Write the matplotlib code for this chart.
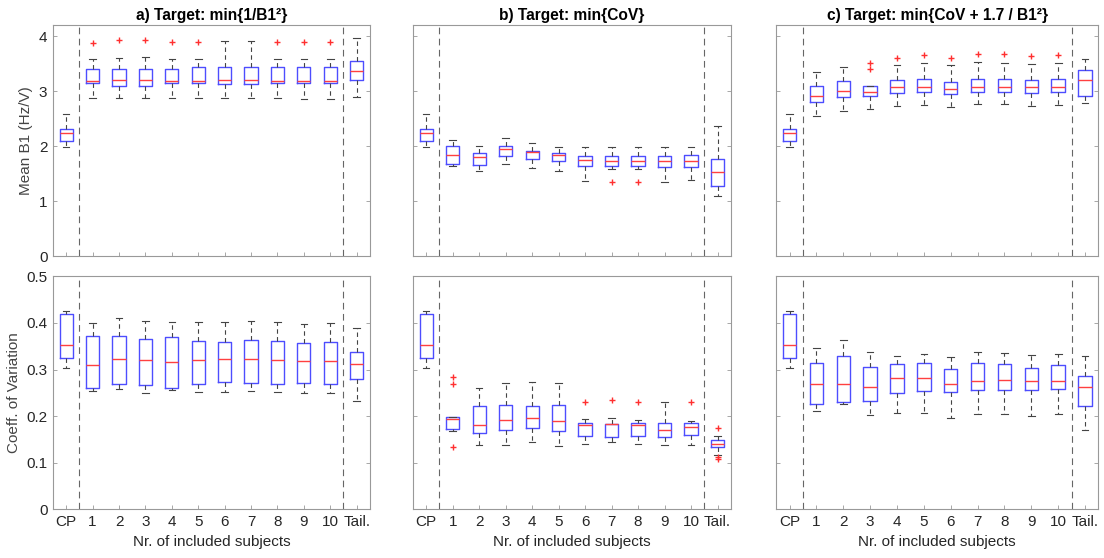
import matplotlib
matplotlib.use('Agg')
import matplotlib.pyplot as plt

plt.rcParams['font.family'] = ['Liberation Sans', 'DejaVu Sans']

labels = ['CP', '1', '2', '3', '4', '5', '6', '7', '8', '9', '10', 'Tail.']
titles = ['a) Target: min{1/B1²}', 'b) Target: min{CoV}', 'c) Target: min{CoV + 1.7 / B1²}']

# CP reference (same in every panel): lo, q1, med, q3, hi
cp_mean = [1.99, 2.10, 2.23, 2.32, 2.59]
cp_cov = [0.303, 0.324, 0.352, 0.419, 0.425]

# ---- Mean B1, columns 1..10 and Tail.
a_mean_lo = [2.88, 2.88, 2.88, 2.87, 2.87, 2.87, 2.87, 2.87, 2.86, 2.86, 2.90]
a_mean_q1 = [3.14, 3.10, 3.10, 3.15, 3.14, 3.13, 3.13, 3.14, 3.14, 3.14, 3.21]
a_mean_med = [3.18, 3.20, 3.20, 3.19, 3.19, 3.20, 3.20, 3.19, 3.19, 3.19, 3.37]
a_mean_q3 = [3.41, 3.40, 3.41, 3.41, 3.44, 3.44, 3.44, 3.44, 3.44, 3.44, 3.55]
a_mean_hi = [3.58, 3.61, 3.62, 3.59, 3.59, 3.92, 3.92, 3.59, 3.59, 3.59, 3.96]
a_mean_out = [[3.87], [3.93], [3.93], [3.89], [3.90], [], [], [3.90], [3.90], [3.90], []]

b_mean_lo = [1.64, 1.54, 1.68, 1.61, 1.55, 1.36, 1.58, 1.58, 1.35, 1.38, 1.09]
b_mean_q1 = [1.67, 1.65, 1.82, 1.77, 1.73, 1.64, 1.64, 1.64, 1.62, 1.62, 1.28]
b_mean_med = [1.84, 1.81, 1.95, 1.89, 1.84, 1.74, 1.73, 1.73, 1.73, 1.73, 1.53]
b_mean_q3 = [2.00, 1.87, 2.01, 1.92, 1.87, 1.82, 1.82, 1.82, 1.82, 1.83, 1.76]
b_mean_hi = [2.12, 2.01, 2.15, 2.05, 1.99, 1.99, 1.99, 1.99, 1.99, 1.98, 2.37]
b_mean_out = [[], [], [], [], [], [], [1.35], [1.35], [], [], []]

c_mean_lo = [2.55, 2.64, 2.67, 2.73, 2.75, 2.72, 2.76, 2.76, 2.73, 2.75, 2.79]
c_mean_q1 = [2.81, 2.90, 2.91, 2.97, 2.99, 2.94, 2.99, 2.98, 2.96, 2.98, 2.91]
c_mean_med = [2.92, 3.00, 2.99, 3.07, 3.08, 3.04, 3.07, 3.08, 3.07, 3.08, 3.20]
c_mean_q3 = [3.09, 3.19, 3.09, 3.20, 3.22, 3.16, 3.22, 3.22, 3.21, 3.22, 3.39]
c_mean_hi = [3.35, 3.44, 3.09, 3.48, 3.52, 3.47, 3.53, 3.52, 3.50, 3.52, 3.59]
c_mean_out = [[], [], [3.41, 3.51], [3.61], [3.65], [3.61], [3.68], [3.67], [3.64], [3.65], []]

# ---- Coefficient of variation
a_cov_lo = [.254, .258, .249, .256, .252, .251, .254, .251, .249, .249, .232]
a_cov_q1 = [.260, .269, .267, .261, .269, .274, .272, .269, .271, .269, .280]
a_cov_med = [.310, .323, .320, .317, .320, .323, .323, .320, .319, .319, .312]
a_cov_q3 = [.372, .372, .365, .369, .362, .360, .363, .361, .357, .360, .338]
a_cov_hi = [.400, .410, .403, .402, .401, .402, .405, .401, .398, .400, .388]
a_cov_out = [[] for _ in range(11)]

b_cov_lo = [.168, .138, .138, .144, .136, .141, .145, .141, .138, .138, .117]
b_cov_q1 = [.173, .164, .171, .174, .169, .157, .156, .158, .156, .159, .134]
b_cov_med = [.194, .182, .192, .197, .190, .181, .184, .181, .171, .176, .141]
b_cov_q3 = [.198, .222, .223, .222, .224, .186, .184, .186, .186, .186, .148]
b_cov_hi = [.198, .261, .271, .274, .271, .193, .195, .191, .231, .190, .158]
b_cov_out = [[.284, .269, .133], [], [], [], [], [.231], [.234], [.231], [], [.231], [.174, .112, .108]]

c_cov_lo = [.211, .226, .202, .207, .207, .196, .204, .204, .201, .204, .171]
c_cov_q1 = [.226, .231, .233, .249, .254, .252, .256, .256, .256, .259, .222]
c_cov_med = [.269, .269, .263, .282, .281, .270, .276, .277, .276, .276, .263]
c_cov_q3 = [.314, .329, .306, .312, .314, .302, .315, .311, .304, .309, .287]
c_cov_hi = [.346, .364, .337, .329, .334, .327, .338, .336, .331, .334, .329]
c_cov_out = [[] for _ in range(11)]


def make_stats(cp, lo, q1, med, q3, hi, out):
    stats = [dict(whislo=cp[0], q1=cp[1], med=cp[2], q3=cp[3], whishi=cp[4], fliers=[])]
    for i in range(len(lo)):
        stats.append(dict(whislo=lo[i], q1=q1[i], med=med[i], q3=q3[i],
                          whishi=hi[i], fliers=out[i]))
    return stats


top_stats = [
    make_stats(cp_mean, a_mean_lo, a_mean_q1, a_mean_med, a_mean_q3, a_mean_hi, a_mean_out),
    make_stats(cp_mean, b_mean_lo, b_mean_q1, b_mean_med, b_mean_q3, b_mean_hi, b_mean_out),
    make_stats(cp_mean, c_mean_lo, c_mean_q1, c_mean_med, c_mean_q3, c_mean_hi, c_mean_out),
]
bottom_stats = [
    make_stats(cp_cov, a_cov_lo, a_cov_q1, a_cov_med, a_cov_q3, a_cov_hi, a_cov_out),
    make_stats(cp_cov, b_cov_lo, b_cov_q1, b_cov_med, b_cov_q3, b_cov_hi, b_cov_out),
    make_stats(cp_cov, c_cov_lo, c_cov_q1, c_cov_med, c_cov_q3, c_cov_hi, c_cov_out),
]

fig = plt.figure(figsize=(11.04, 5.58), dpi=100)

lefts = [0.048, 0.374, 0.703]
widths = [0.287, 0.288, 0.292]
text_col = '#262626'
spine_col = '#999999'

for col in range(3):
    for row in range(2):
        if row == 0:
            ax = fig.add_axes([lefts[col], 0.541, widths[col], 0.414])
            stats = top_stats[col]
        else:
            ax = fig.add_axes([lefts[col], 0.087, widths[col], 0.418])
            stats = bottom_stats[col]

        ax.bxp(stats, positions=range(1, 13), widths=0.5, capwidths=0.25,
               boxprops=dict(color='#4d4dff', linewidth=1.0),
               medianprops=dict(color='#ff4040', linewidth=1.0),
               whiskerprops=dict(color='#444444', linestyle=(0, (4, 3)), linewidth=0.8),
               capprops=dict(color='#444444', linewidth=0.8),
               flierprops=dict(marker='+', markeredgecolor='#ff3030', markersize=5,
                               linestyle='none'))

        for xv in (1.5, 11.5):
            ax.axvline(xv, color='#666666', linestyle=(0, (6, 4)), linewidth=0.8)

        ax.set_xlim(0.5, 12.5)
        if row == 0:
            ax.set_ylim(0, 4.2)
            ax.set_yticks([0, 1, 2, 3, 4])
            ax.set_title(titles[col], fontsize=11.2, fontweight='bold', color='black', pad=4)
            ax.set_xticks(range(1, 13))
            ax.set_xticklabels([])
            if col == 0:
                ax.set_ylabel('Mean B1 (Hz/V)', fontsize=11, color='#444444')
        else:
            ax.set_ylim(0, 0.5)
            ax.set_yticks([0, 0.1, 0.2, 0.3, 0.4, 0.5])
            ax.set_yticklabels(['0', '0.1', '0.2', '0.3', '0.4', '0.5'])
            ax.set_xticks(range(1, 13))
            ax.set_xticklabels(labels)
            ax.set_xlabel('Nr. of included subjects', fontsize=11, color=text_col, labelpad=4)
            if col == 0:
                ax.set_ylabel('Coeff. of Variation', fontsize=11, color='#444444')
        if col > 0:
            ax.set_yticklabels([])

        ax.tick_params(direction='in', length=3, width=0.6, right=True,
                       colors=spine_col, labelcolor=text_col, labelsize=11, pad=4)
        for s in ax.spines.values():
            s.set_color(spine_col)
            s.set_linewidth(0.8)

fig.savefig('out.png', dpi=100)
